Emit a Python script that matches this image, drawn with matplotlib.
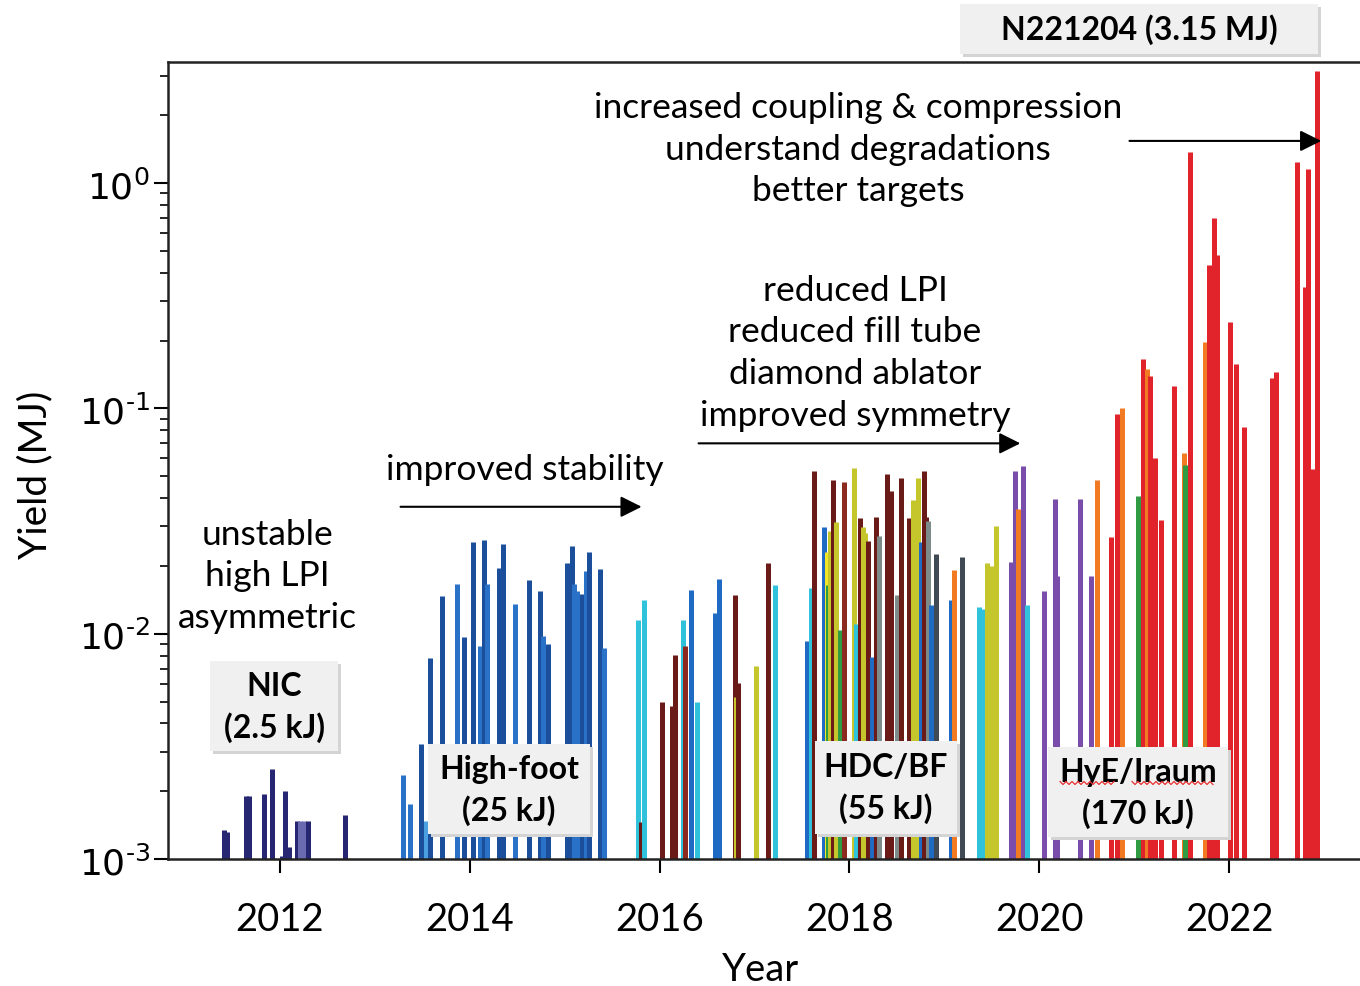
import numpy as np
import matplotlib.pyplot as plt
from matplotlib.patches import Rectangle
from matplotlib.lines import Line2D

plt.rcParams['font.family'] = ['Lato', 'DejaVu Sans']

#========shot data=======
# decimal year of each shot, yield in MJ, campaign colour key
shot_year = [
    2011.41, 2011.44, 2011.64, 2011.67, 2011.83, 2011.92, 2012.02, 2012.05,
    2012.10, 2012.18, 2012.21, 2012.25, 2012.29, 2012.69,
    2013.30, 2013.37, 2013.49, 2013.54, 2013.58, 2013.71, 2013.86, 2013.94,
    2014.03, 2014.11, 2014.15, 2014.18, 2014.31, 2014.35, 2014.48, 2014.62,
    2014.74, 2014.77, 2014.82, 2015.02, 2015.08, 2015.10, 2015.13, 2015.18,
    2015.22, 2015.26, 2015.37, 2015.41,
    2015.77, 2015.80, 2015.83, 2016.03, 2016.13, 2016.16, 2016.25, 2016.27,
    2016.33, 2016.39, 2016.58, 2016.63, 2016.79, 2016.80, 2016.83, 2017.01,
    2017.14, 2017.22,
    2017.55, 2017.59, 2017.63, 2017.73, 2017.76, 2017.77, 2017.80, 2017.83,
    2017.86, 2017.90, 2017.94, 2018.05, 2018.07, 2018.11, 2018.14, 2018.16,
    2018.19, 2018.24, 2018.28, 2018.31, 2018.40, 2018.44, 2018.50, 2018.54,
    2018.63, 2018.67, 2018.72, 2018.75, 2018.78, 2018.81, 2018.83, 2018.86,
    2018.91, 2019.07, 2019.10, 2019.19, 2019.36, 2019.41, 2019.45, 2019.49,
    2019.54, 2019.70, 2019.74, 2019.78, 2019.83, 2019.87,
    2020.05, 2020.17, 2020.19, 2020.43, 2020.55, 2020.61, 2020.76, 2020.82,
    2020.87, 2021.04, 2021.09, 2021.13, 2021.17, 2021.22, 2021.28, 2021.42,
    2021.52, 2021.54, 2021.59, 2021.75, 2021.79, 2021.84, 2021.87, 2022.01,
    2022.07, 2022.16, 2022.45, 2022.49, 2022.71, 2022.80, 2022.83, 2022.88,
    2022.93,
]
shot_yield = [
    1.35e-3, 1.32e-3, 1.9e-3, 1.9e-3, 1.95e-3, 2.5e-3, 1.03e-3, 2.0e-3,
    1.13e-3, 1.48e-3, 1.48e-3, 1.48e-3, 1.48e-3, 1.57e-3,
    2.36e-3, 1.75e-3, 3.24e-3, 1.47e-3, 7.8e-3, 1.47e-2, 1.67e-2, 9.7e-3,
    2.56e-2, 8.8e-3, 2.6e-2, 1.67e-2, 1.96e-2, 2.5e-2, 1.36e-2, 1.74e-2,
    1.55e-2, 9.8e-3, 9.0e-3, 2.05e-2, 2.44e-2, 1.67e-2, 1.55e-2, 1.5e-2,
    1.89e-2, 2.3e-2, 1.93e-2, 8.6e-3,
    1.15e-2, 1.46e-3, 1.41e-2, 4.97e-3, 4.77e-3, 8.07e-3, 1.15e-2, 8.8e-3,
    1.56e-2, 5.0e-3, 1.23e-2, 1.75e-2, 1.48e-2, 5.25e-3, 6.05e-3, 7.16e-3,
    2.05e-2, 1.64e-2,
    9.25e-3, 1.6e-2, 5.26e-2, 2.97e-2, 2.3e-2, 1.64e-2, 2.85e-2, 4.8e-2,
    3.13e-2, 1.04e-2, 4.7e-2, 5.45e-2, 1.1e-2, 3.27e-2, 2.97e-2, 2.8e-2,
    2.57e-2, 7.86e-3, 3.3e-2, 2.72e-2, 5.14e-2, 4.28e-2, 1.48e-2, 4.92e-2,
    3.27e-2, 3.92e-2, 4.9e-2, 2.56e-2, 5.26e-2, 3.3e-2, 3.17e-2, 1.34e-2,
    2.27e-2, 1.41e-2, 1.91e-2, 2.19e-2, 1.32e-2, 1.29e-2, 2.05e-2, 2.0e-2,
    3.02e-2, 2.08e-2, 5.26e-2, 3.59e-2, 5.56e-2, 1.34e-2,
    1.54e-2, 3.98e-2, 1.8e-2, 3.98e-2, 1.8e-2, 4.8e-2, 2.7e-2, 9.4e-2,
    0.10, 4.1e-2, 0.165, 0.15, 0.14, 6.0e-2, 3.2e-2, 0.126,
    6.34e-2, 5.6e-2, 1.37, 0.198, 0.434, 0.70, 0.479, 0.243,
    0.157, 8.3e-2, 0.136, 0.145, 1.24, 0.346, 1.15, 5.4e-2,
    3.15,
]
shot_kind = [
    'nic', 'nic', 'nic', 'nic', 'nic', 'nic', 'nic', 'nic',
    'nic', 'nic', 'nic_l', 'nic_l', 'nic', 'nic',
    'hf_m', 'hf_m', 'hf_d', 'hf_l', 'hf_d', 'hf_d', 'hf_m', 'hf_d',
    'hf_d', 'hf_m', 'hf_d', 'hf_m', 'hf_d', 'hf_d', 'hf_m', 'hf_d',
    'hf_d', 'hf_m', 'hf_d', 'hf_d', 'hf_d', 'hf_m', 'hf_m', 'hf_d',
    'hf_m', 'hf_d', 'hf_d', 'hf_m',
    'cyan', 'brown', 'cyan', 'brown', 'brown', 'brown', 'cyan', 'maroon',
    'blue', 'cyan', 'blue', 'blue', 'brown', 'olive', 'brown', 'olive',
    'brown', 'cyan',
    'blue', 'cyan', 'brown', 'blue', 'yellow', 'green', 'olive', 'brown',
    'olive', 'green', 'maroon', 'olive', 'cyan', 'brown', 'olive', 'olive',
    'brown', 'blue', 'brown', 'grey', 'brown', 'brown', 'grey', 'brown',
    'brown', 'olive', 'olive', 'blue', 'brown', 'brown', 'grey', 'blue',
    'slate', 'blue', 'orange', 'slate', 'cyan', 'cyan', 'olive', 'olive',
    'olive', 'purple', 'purple', 'orange', 'purple', 'cyan',
    'purple', 'purple', 'purple', 'purple', 'purple', 'orange', 'red', 'red',
    'orange', 'green', 'red', 'orange', 'red', 'red', 'red', 'red',
    'orange', 'green', 'red', 'orange', 'red', 'red', 'red', 'red',
    'red', 'red', 'red', 'red', 'red', 'red', 'red', 'red',
    'red',
]

kind_colors = {
    'nic': '#262673', 'nic_l': '#6a6ab0',
    'hf_d': '#1b4f9c', 'hf_m': '#2a72c8', 'hf_l': '#4aa0e0',
    'cyan': '#30c2da', 'brown': '#6b1b17', 'maroon': '#8c2a20',
    'olive': '#c5c52c', 'yellow': '#f2e52a', 'green': '#2f9c43',
    'grey': '#7d8b8b', 'slate': '#3f4a55', 'orange': '#f27a22',
    'purple': '#7b4dab', 'red': '#e1232b', 'blue': '#1f6bc4',
}

year_ticks = [2012, 2014, 2016, 2018, 2020, 2022]
yield_ticks = [1e-3, 1e-2, 1e-1, 1e0]
yield_exps = ['-3', '-2', '-1', '0']

# campaign boxes: label lines, box left/top/right/bottom (px)
campaigns = [
    (['NIC', '(2.5 kJ)'], (210, 662, 338, 752)),
    (['High-foot', '(25 kJ)'], (428, 745, 590, 835)),
    (['HDC/BF', '(55 kJ)'], (815, 742, 957, 835)),
    (['HyE/Iraum', '(170 kJ)'], (1048, 748, 1228, 838)),
]

# notes: lines, centre x (px), first line y (px)
notes = [
    (['increased coupling & compression', 'understand degradations',
      'better targets'], 858, 108),
    (['reduced LPI', 'reduced fill tube', 'diamond ablator',
      'improved symmetry'], 855, 291),
    (['improved stability'], 525, 470),
    (['unstable', 'high LPI', 'asymmetric'], 267, 535),
]

# arrows in data coords: (year start, year end, yield)
arrows = [
    (2020.95, 2022.97, 1.54),
    (2016.41, 2019.80, 7.0e-2),
    (2013.27, 2015.81, 3.66e-2),
]

W, H = 1360, 987


def fx(x):
    return x / W


def fy(y):
    return 1 - y / H


fig = plt.figure(figsize=(W / 100, H / 100), dpi=100)
ax = fig.add_axes([fx(168), fy(860), (1362 - 168) / W, (860 - 63) / H])

ax.vlines(shot_year, 1e-3, shot_yield,
          colors=[kind_colors[k] for k in shot_kind], linewidth=3.6, zorder=2)

ax.set_yscale('log')
ax.set_ylim(1e-3, 3.45)
ax.set_xlim(2010.82, 2023.40)
ax.set_xticks(year_ticks)
ax.set_xticklabels([str(y) for y in year_ticks])
ax.set_yticks(yield_ticks)
# short hyphen in the exponent rather than a long math minus
ax.set_yticklabels([r'$10^{%s}$' % e.replace('-', '\u2010') for e in yield_exps])

ax.tick_params(axis='x', which='major', direction='out', length=10, width=1.5,
               labelsize=27.5, pad=20)
ax.tick_params(axis='y', which='major', direction='out', length=10, width=1.5,
               labelsize=26, pad=3)
ax.tick_params(axis='y', which='minor', direction='out', length=6, width=1.2,
               labelleft=False)
ax.tick_params(axis='x', which='minor', bottom=False)

for side in ['left', 'bottom', 'top']:
    ax.spines[side].set_linewidth(1.8)
    ax.spines[side].set_color('#222222')
ax.spines['right'].set_visible(False)

for x0, x1, yv in arrows:
    ax.annotate('', xy=(x1, yv), xytext=(x0, yv),
                arrowprops=dict(arrowstyle='-|>', lw=1.5, color='black',
                                mutation_scale=32, shrinkA=0, shrinkB=0),
                zorder=4)

# axis labels
fig.text(fx(760), fy(970), 'Year', fontsize=27.5, ha='center', va='center')
fig.text(fx(35), fy(475), 'Yield (MJ)', fontsize=28, ha='center', va='center',
         rotation=90)

# text notes
for lines, cx, y0 in notes:
    for i, line in enumerate(lines):
        fig.text(fx(cx), fy(y0 + 41.5 * i), line, fontsize=25.5,
                 ha='center', va='center', zorder=6)


def label_box(lines, box, size, line_gap):
    x0, y0, x1, y1 = box
    shadow = Rectangle((fx(x0 + 3), fy(y1 + 3)), (x1 - x0) / W, (y1 - y0) / H,
                       transform=fig.transFigure, fc='#d4d4d4', ec='none',
                       zorder=5)
    face = Rectangle((fx(x0), fy(y1)), (x1 - x0) / W, (y1 - y0) / H,
                     transform=fig.transFigure, fc='#f0f0f0', ec='none',
                     zorder=5)
    fig.add_artist(shadow)
    fig.add_artist(face)
    cx = (x0 + x1) / 2
    n = len(lines)
    cy = (y0 + y1) / 2 - line_gap * (n - 1) / 2
    for i, line in enumerate(lines):
        fig.text(fx(cx), fy(cy + line_gap * i), line, fontsize=size,
                 fontweight='bold', ha='center', va='center', zorder=6)


for lines, box in campaigns:
    label_box(lines, box, 23, 41)

label_box(['N221204 (3.15 MJ)'], (960, 5, 1318, 55), 23, 0)

# spell-check squiggles under HyE/Iraum
for xa, xb in [(1060, 1116), (1132, 1215)]:
    xs = np.arange(xa, xb + 1, 3)
    ys = 784 + 1.5 * ((np.arange(len(xs)) % 2) * 2 - 1)
    fig.add_artist(Line2D(fx(xs), fy(ys), transform=fig.transFigure,
                          color='#e83030', lw=0.9, zorder=7))

fig.savefig('out.png', dpi=100)
